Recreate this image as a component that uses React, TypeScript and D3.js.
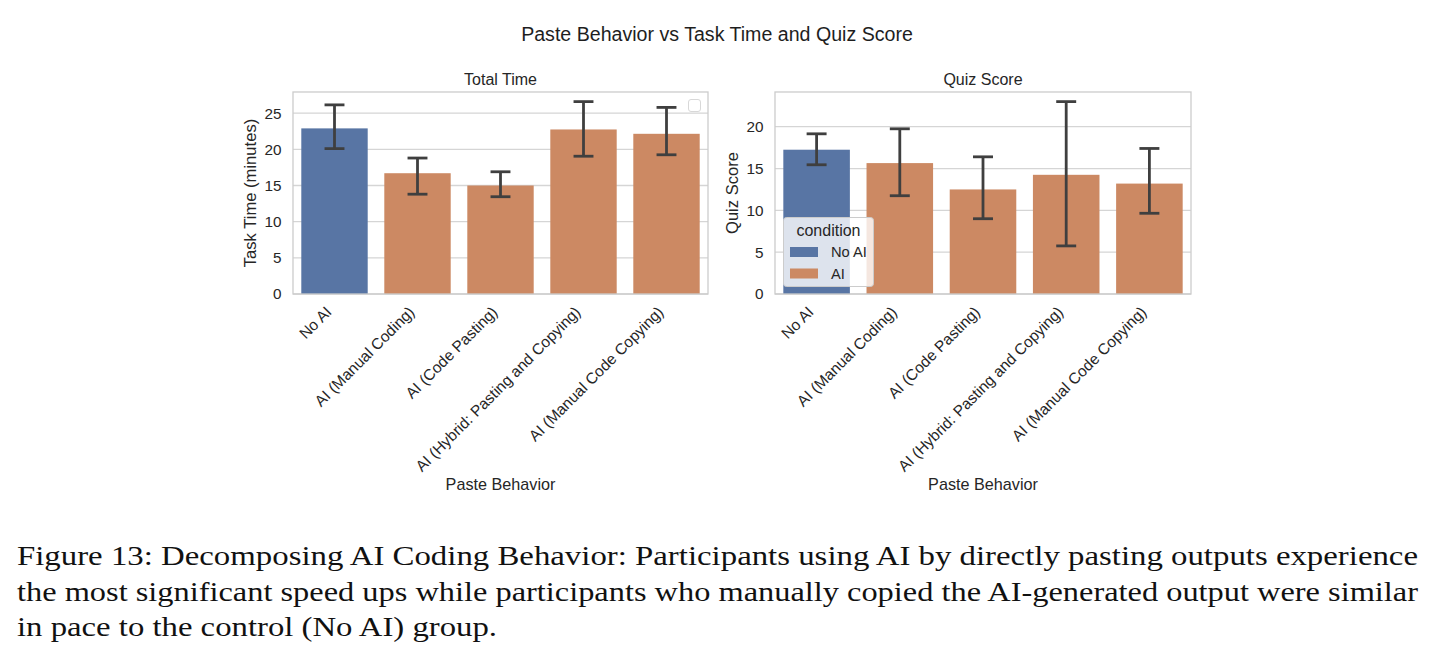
import React, { useEffect, useRef } from "react";
import * as d3 from "d3";

// paste behaviour groups, shown on both panels
const categories = [
  "No AI",
  "AI (Manual Coding)",
  "AI (Code Pasting)",
  "AI (Hybrid: Pasting and Copying)",
  "AI (Manual Code Copying)",
];
const conditionOf = ["No AI", "AI", "AI", "AI", "AI"];
const legendLabels = ["No AI", "AI"];

// Total Time (minutes): mean and 95% CI
const timeMean = [22.9, 16.7, 15.0, 22.75, 22.15];
const timeLow = [20.1, 13.8, 13.45, 19.05, 19.25];
const timeHigh = [26.15, 18.8, 16.9, 26.6, 25.8];
const timeTicks = [0, 5, 10, 15, 20, 25];

// Quiz Score: mean and 95% CI
const quizMean = [17.25, 15.65, 12.5, 14.25, 13.2];
const quizLow = [15.45, 11.75, 9.0, 5.75, 9.65];
const quizHigh = [19.15, 19.75, 16.4, 23.0, 17.4];
const quizTicks = [0, 5, 10, 15, 20];

const captionLines = [
  "Figure 13: Decomposing AI Coding Behavior: Participants using AI by directly pasting outputs experience",
  "the most significant speed ups while participants who manually copied the AI-generated output were similar",
  "in pace to the control (No AI) group.",
];

const W = 1435;
const H = 658;
const colors = { "No AI": "#5875a4", AI: "#cc8963" };
const ink = "#262626";
const font = "Liberation Sans, Arial, sans-serif";

function drawPanel(svg, opts) {
  const { left, right, top, bottom, title, ylabel, mean, low, high, ticks } = opts;
  const g = svg.append("g");

  const x = d3.scaleBand().domain(categories).range([left, right]).paddingInner(0.2).paddingOuter(0.1);
  const y = d3.scaleLinear().domain([0, d3.max(high) * 1.05]).range([bottom, top]);

  // grid
  g.selectAll(".grid")
    .data(ticks)
    .enter()
    .append("line")
    .attr("x1", left)
    .attr("x2", right)
    .attr("y1", (d) => y(d))
    .attr("y2", (d) => y(d))
    .attr("stroke", "#d5d5d5")
    .attr("stroke-width", 1.3);

  // bars
  g.selectAll(".bar")
    .data(categories)
    .enter()
    .append("rect")
    .attr("x", (d) => x(d))
    .attr("width", x.bandwidth())
    .attr("y", (d, i) => y(mean[i]))
    .attr("height", (d, i) => y(0) - y(mean[i]))
    .attr("fill", (d, i) => colors[conditionOf[i]]);

  // error bars
  const cap = x.bandwidth() * 0.15;
  const eb = g.selectAll(".err").data(categories).enter().append("g").attr("stroke", "#3f3f3f").attr("stroke-width", 2.8);
  eb.append("line")
    .attr("x1", (d) => x(d) + x.bandwidth() / 2)
    .attr("x2", (d) => x(d) + x.bandwidth() / 2)
    .attr("y1", (d, i) => y(low[i]))
    .attr("y2", (d, i) => y(high[i]));
  eb.append("line")
    .attr("x1", (d) => x(d) + x.bandwidth() / 2 - cap)
    .attr("x2", (d) => x(d) + x.bandwidth() / 2 + cap)
    .attr("y1", (d, i) => y(low[i]))
    .attr("y2", (d, i) => y(low[i]));
  eb.append("line")
    .attr("x1", (d) => x(d) + x.bandwidth() / 2 - cap)
    .attr("x2", (d) => x(d) + x.bandwidth() / 2 + cap)
    .attr("y1", (d, i) => y(high[i]))
    .attr("y2", (d, i) => y(high[i]));

  // frame
  g.append("rect")
    .attr("x", left)
    .attr("y", top)
    .attr("width", right - left)
    .attr("height", bottom - top)
    .attr("fill", "none")
    .attr("stroke", "#cccccc")
    .attr("stroke-width", 1.3);

  // y tick labels
  g.selectAll(".ytick")
    .data(ticks)
    .enter()
    .append("text")
    .attr("x", left - 11.5)
    .attr("y", (d) => y(d))
    .attr("dy", "0.35em")
    .attr("text-anchor", "end")
    .attr("font-size", 15.3)
    .attr("fill", ink)
    .text((d) => d);

  // x tick labels, rotated 45deg
  g.selectAll(".xtick")
    .data(categories)
    .enter()
    .append("text")
    .attr("transform", (d) => `translate(${x(d) + x.bandwidth() / 2 - 2},${bottom + 19}) rotate(-45)`)
    .attr("text-anchor", "end")
    .attr("font-size", 15.5)
    .attr("fill", ink)
    .text((d) => d);

  g.append("text")
    .attr("x", (left + right) / 2)
    .attr("y", 85)
    .attr("text-anchor", "middle")
    .attr("font-size", 16)
    .attr("fill", ink)
    .text(title);

  g.append("text")
    .attr("transform", `translate(${left - 43},${(top + bottom) / 2}) rotate(-90)`)
    .attr("text-anchor", "middle")
    .attr("dy", "0.35em")
    .attr("font-size", 16.6)
    .attr("fill", ink)
    .text(ylabel);

  g.append("text")
    .attr("x", (left + right) / 2)
    .attr("y", 490)
    .attr("text-anchor", "middle")
    .attr("font-size", 16.2)
    .attr("fill", ink)
    .text("Paste Behavior");

  return { x, y };
}

export default function App() {
  const ref = useRef(null);

  useEffect(() => {
    const svg = d3.select(ref.current);
    svg.selectAll("*").remove();
    svg.attr("font-family", font);

    svg.append("rect").attr("width", W).attr("height", H).attr("fill", "#ffffff");

    svg.append("text")
      .attr("x", 717)
      .attr("y", 41)
      .attr("text-anchor", "middle")
      .attr("font-size", 19.6)
      .attr("fill", "#1e1e1e")
      .text("Paste Behavior vs Task Time and Quiz Score");

    drawPanel(svg, {
      left: 293, right: 708, top: 92, bottom: 294,
      title: "Total Time", ylabel: "Task Time (minutes)",
      mean: timeMean, low: timeLow, high: timeHigh, ticks: timeTicks,
    });
    drawPanel(svg, {
      left: 775, right: 1191, top: 92, bottom: 294,
      title: "Quiz Score", ylabel: "Quiz Score",
      mean: quizMean, low: quizLow, high: quizHigh, ticks: quizTicks,
    });

    // empty legend left behind on the first panel
    svg.append("rect")
      .attr("x", 688.5).attr("y", 99.5).attr("width", 12).attr("height", 12)
      .attr("rx", 2.5)
      .attr("fill", "#ffffff")
      .attr("stroke", "#d8d8d8");

    // condition legend on the quiz panel
    const lg = svg.append("g");
    lg.append("rect")
      .attr("x", 783.5).attr("y", 217.5).attr("width", 90).attr("height", 69)
      .attr("rx", 3)
      .attr("fill", "#ffffff")
      .attr("fill-opacity", 0.8)
      .attr("stroke", "#cccccc");
    lg.append("text")
      .attr("x", 828.5).attr("y", 236)
      .attr("text-anchor", "middle")
      .attr("font-size", 16)
      .attr("fill", ink)
      .text("condition");
    legendLabels.forEach((label, i) => {
      lg.append("rect")
        .attr("x", 790).attr("y", 247 + i * 21.5).attr("width", 28).attr("height", 10)
        .attr("fill", colors[label]);
      lg.append("text")
        .attr("x", 831).attr("y", 257 + i * 21.5)
        .attr("font-size", 14.7)
        .attr("fill", ink)
        .text(label);
    });

    // caption
    const cap = svg.append("g")
      .attr("font-family", "Liberation Serif, Times New Roman, serif")
      .attr("font-size", 27)
      .attr("fill", "#111111");
    captionLines.forEach((line, i) => {
      const t = cap.append("text")
        .attr("x", 17)
        .attr("y", 565 + i * 35.5)
        .text(line);
      if (i < 2) t.attr("textLength", 1401).attr("lengthAdjust", "spacingAndGlyphs");
      else t.attr("textLength", 480).attr("lengthAdjust", "spacingAndGlyphs");
    });
  }, []);

  return (
    <svg
      ref={ref}
      width={W}
      height={H}
      style={{ position: "absolute", left: 0, top: 0, display: "block" }}
    />
  );
}
